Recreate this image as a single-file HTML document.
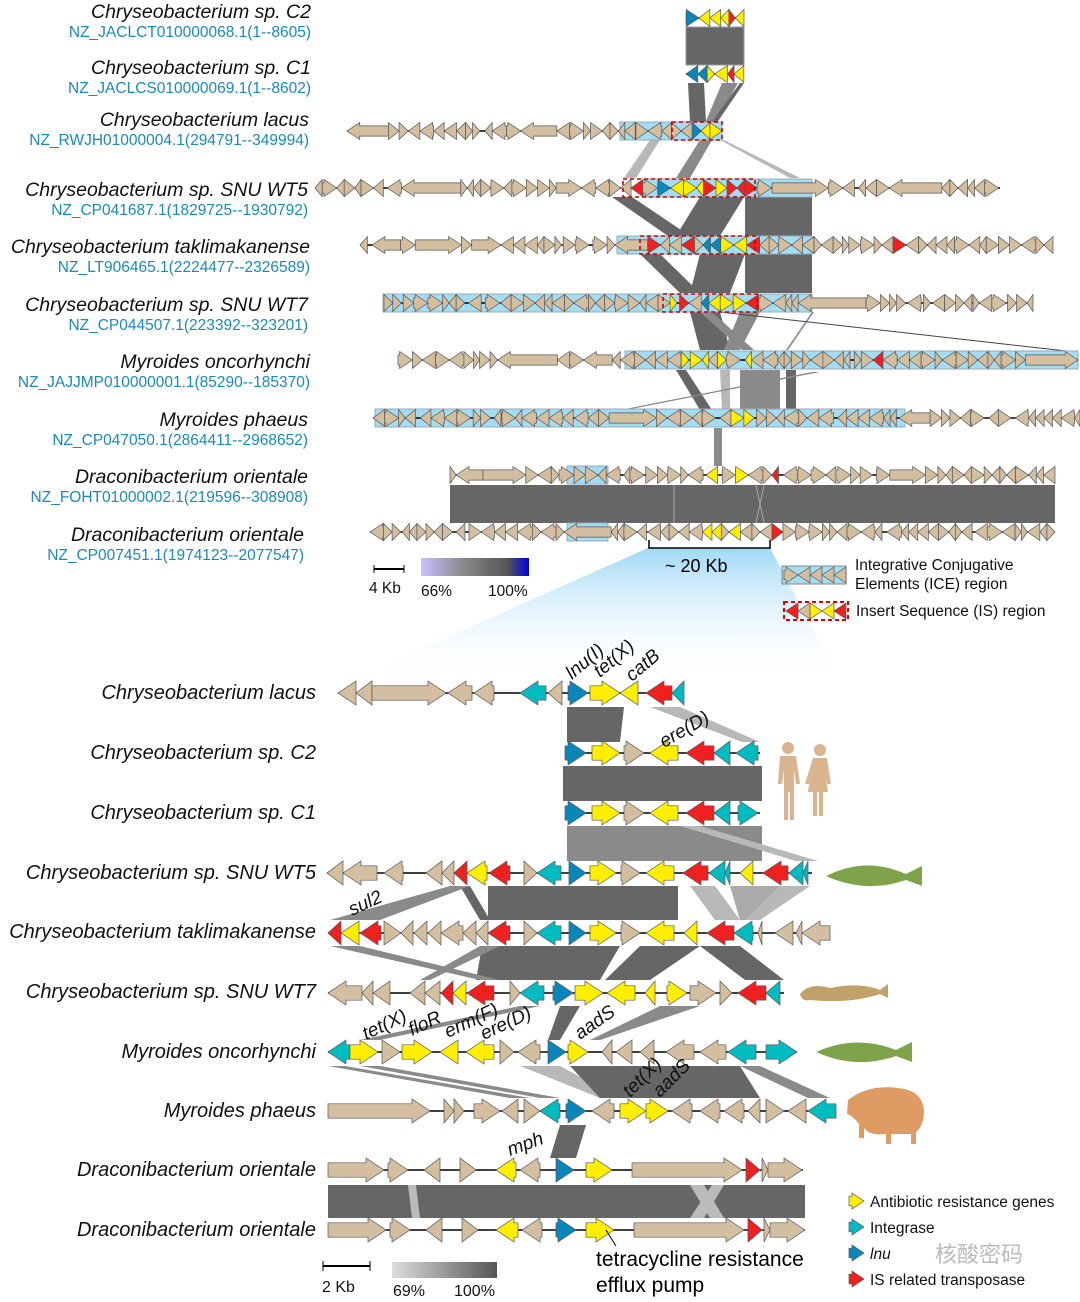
<!DOCTYPE html>
<html><head><meta charset="utf-8"><style>
body{margin:0;background:#fff;}
svg{display:block;font-family:"Liberation Sans","Noto Sans CJK SC",sans-serif;}
.sp{font-style:italic;font-size:19.5px;fill:#111;text-anchor:end}
.acc{font-size:15.5px;fill:#1a8ab5;text-anchor:end}
.bl{font-style:italic;font-size:20px;fill:#111;text-anchor:end}
.gl{font-style:italic;font-size:19px;fill:#111}
.lg{font-size:15.5px;fill:#111}
</style></head><body>
<svg id="s" width="1080" height="1302" viewBox="0 0 1080 1302" xmlns="http://www.w3.org/2000/svg">
<defs>
<linearGradient id="cone" x1="0" y1="0" x2="0" y2="1"><stop offset="0" stop-color="#9fd8f5"/><stop offset="1" stop-color="#fff" stop-opacity="0"/></linearGradient>
<linearGradient id="g1" x1="0" x2="1"><stop offset="0" stop-color="#c8c0ff"/><stop offset="0.4" stop-color="#888"/><stop offset="0.8" stop-color="#555"/><stop offset="1" stop-color="#0000dd"/></linearGradient>
<linearGradient id="g2" x1="0" x2="1"><stop offset="0" stop-color="#ddd"/><stop offset="1" stop-color="#555"/></linearGradient>
</defs>
<polygon points="648,548 770,548 840,680 350,680" fill="url(#cone)"/>
<g id="rib"></g>
<g id="trk"></g>
<text class="sp" x="311" y="18">Chryseobacterium sp. C2</text>
<text class="acc" x="311" y="37">NZ_JACLCT010000068.1(1--8605)</text>
<text class="sp" x="311" y="74">Chryseobacterium sp. C1</text>
<text class="acc" x="311" y="93">NZ_JACLCS010000069.1(1--8602)</text>
<text class="sp" x="309" y="126">Chryseobacterium lacus</text>
<text class="acc" x="309" y="145">NZ_RWJH01000004.1(294791--349994)</text>
<text class="sp" x="308" y="196">Chryseobacterium sp. SNU WT5</text>
<text class="acc" x="308" y="215">NZ_CP041687.1(1829725--1930792)</text>
<text class="sp" x="310" y="253">Chryseobacterium taklimakanense</text>
<text class="acc" x="310" y="272">NZ_LT906465.1(2224477--2326589)</text>
<text class="sp" x="308" y="311">Chryseobacterium sp. SNU WT7</text>
<text class="acc" x="308" y="330">NZ_CP044507.1(223392--323201)</text>
<text class="sp" x="310" y="368">Myroides oncorhynchi</text>
<text class="acc" x="310" y="387">NZ_JAJJMP010000001.1(85290--185370)</text>
<text class="sp" x="308" y="426">Myroides phaeus</text>
<text class="acc" x="308" y="445">NZ_CP047050.1(2864411--2968652)</text>
<text class="sp" x="308" y="483">Draconibacterium orientale</text>
<text class="acc" x="308" y="502">NZ_FOHT01000002.1(219596--308908)</text>
<text class="sp" x="304" y="541">Draconibacterium orientale</text>
<text class="acc" x="304" y="560">NZ_CP007451.1(1974123--2077547)</text>
<line x1="374" y1="569" x2="404" y2="569" stroke="#000" stroke-width="2"/><line x1="374" y1="565" x2="374" y2="573" stroke="#000"/><line x1="404" y1="565" x2="404" y2="573" stroke="#000"/>
<text class="lg" x="369" y="593">4 Kb</text>
<rect x="421" y="558" width="108" height="18" fill="url(#g1)"/>
<text class="lg" x="421" y="596">66%</text><text class="lg" x="488" y="596">100%</text>
<path d="M649,540 V548 H770 V540" fill="none" stroke="#000" stroke-width="1.5"/>
<text x="665" y="572" style="font-size:18px">~ 20 Kb</text>
<rect x="782" y="566" width="64" height="18" fill="#a4dcf2" stroke="#888"/>
<g id="lg2"></g>
<rect x="784" y="602" width="64" height="18" fill="none" stroke="#d00" stroke-dasharray="4,3" stroke-width="2"/>
<text class="lg" x="855" y="570">Integrative Conjugative</text>
<text class="lg" x="855" y="589">Elements (ICE) region</text>
<text class="lg" x="856" y="616">Insert Sequence (IS) region</text>
<text class="bl" x="316" y="699">Chryseobacterium lacus</text>
<text class="bl" x="316" y="759">Chryseobacterium sp. C2</text>
<text class="bl" x="316" y="819">Chryseobacterium sp. C1</text>
<text class="bl" x="316" y="879">Chryseobacterium sp. SNU WT5</text>
<text class="bl" x="316" y="938">Chryseobacterium taklimakanense</text>
<text class="bl" x="316" y="998">Chryseobacterium sp. SNU WT7</text>
<text class="bl" x="316" y="1058">Myroides oncorhynchi</text>
<text class="bl" x="316" y="1117">Myroides phaeus</text>
<text class="bl" x="316" y="1176">Draconibacterium orientale</text>
<text class="bl" x="316" y="1236">Draconibacterium orientale</text>
<text class="gl" transform="translate(572,680) rotate(-40)">lnu(I)</text>
<text class="gl" transform="translate(600,678) rotate(-40)">tet(X)</text>
<text class="gl" transform="translate(632,682) rotate(-40)">catB</text>
<text class="gl" transform="translate(664,748) rotate(-30)">ere(D)</text>
<text class="gl" transform="translate(352,916) rotate(-25)">sul2</text>
<text class="gl" transform="translate(366,1040) rotate(-25)">tet(X)</text>
<text class="gl" transform="translate(412,1036) rotate(-25)">floR</text>
<text class="gl" transform="translate(448,1038) rotate(-25)">erm(F)</text>
<text class="gl" transform="translate(484,1040) rotate(-25)">ere(D)</text>
<text class="gl" transform="translate(580,1040) rotate(-35)">aadS</text>
<text class="gl" transform="translate(630,1098) rotate(-45)">tet(X)</text>
<text class="gl" transform="translate(660,1098) rotate(-45)">aadS</text>
<text class="gl" transform="translate(510,1156) rotate(-20)">mph</text>
<line x1="606" y1="1230" x2="616" y2="1246" stroke="#000"/>
<text x="596" y="1266" style="font-size:21px">tetracycline resistance</text>
<text x="596" y="1292" style="font-size:21px">efflux pump</text>
<line x1="323" y1="1266" x2="370" y2="1266" stroke="#000" stroke-width="2"/><line x1="323" y1="1261" x2="323" y2="1271" stroke="#000"/><line x1="370" y1="1261" x2="370" y2="1271" stroke="#000"/>
<text class="lg" x="322" y="1292" style="font-size:16px">2 Kb</text>
<rect x="392" y="1262" width="105" height="16" fill="url(#g2)"/>
<text class="lg" x="393" y="1296" style="font-size:16px">69%</text><text class="lg" x="454" y="1296" style="font-size:16px">100%</text>
<g id="leg"></g>
<text class="lg" x="870" y="1207">Antibiotic resistance genes</text>
<text class="lg" x="870" y="1233">Integrase</text>
<text class="lg" x="870" y="1259" style="font-style:italic">lnu</text>
<text class="lg" x="870" y="1285">IS related transposase</text>
<text x="935" y="1262" style="font-size:22px;fill:#bbb">核酸密码</text>
<g fill="#d9b48f">
<circle cx="788" cy="748" r="6"/><path d="M780,756 h16 l4,28 h-4 l-2,-14 v50 h-4 v-28 h-2 v28 h-4 v-50 l-2,14 h-4z"/>
<circle cx="820" cy="750" r="6"/><path d="M813,758 h14 l4,26 h-4 l-2,-12 l3,20 h-5 v24 h-4 v-24 h-2 v24 h-4 v-24 h-5 l3,-20 l-2,12 h-4z"/>
</g>
<path d="M826,876 q40,-20 80,-2 l16,-8 v20 l-16,-6 q-40,14 -80,-4z" fill="#7fa34a"/>
<path d="M800,994 q10,-12 30,-6 q30,-6 50,2 l8,-6 v14 l-8,-4 q-30,10 -70,6 q-8,2 -10,-6z" fill="#c2a06a"/>
<path d="M816,1052 q40,-18 80,-2 l16,-8 v20 l-16,-6 q-40,14 -80,-4z" fill="#7fa34a"/>
<path d="M848,1100 q20,-16 50,-12 q24,2 26,22 q0,16 -8,22 v12 h-5 v-10 h-20 v10 h-5 v-10 q-16,2 -22,-6 v10 h-5 v-14 q-6,-8 -12,-10z" fill="#de9c64"/>
</svg>
<script>
var S=document.getElementById('s'),R=document.getElementById('rib'),T=document.getElementById('trk'),L=document.getElementById('leg');
var C={t:'#d3bea0',y:'#ffee00',r:'#ee2020',c:'#00bcc0',b:'#0a86b8'};
function el(p,tag,a){var e=document.createElementNS('http://www.w3.org/2000/svg',tag);for(var k in a)e.setAttribute(k,a[k]);p.appendChild(e);return e;}
function arrow(p,x1,x2,cy,h,d,col){var w=x2-x1,hl=Math.min(w,h*0.75),sh=h*0.3,pts;
 if(d>0)pts=[[x1,cy-sh],[x2-hl,cy-sh],[x2-hl,cy-h/2],[x2,cy],[x2-hl,cy+h/2],[x2-hl,cy+sh],[x1,cy+sh]];
 else pts=[[x2,cy-sh],[x1+hl,cy-sh],[x1+hl,cy-h/2],[x1,cy],[x1+hl,cy+h/2],[x1+hl,cy+sh],[x2,cy+sh]];
 el(p,'polygon',{points:pts.map(function(q){return q.join(',')}).join(' '),fill:C[col],stroke:'#555','stroke-width':0.7});}
function poly(p,pts,f){el(p,'polygon',{points:pts.join(' '),fill:f});}
var seed=7;function rnd(){seed=(seed*16807)%2147483647;return seed/2147483647;}
function topTrack(y,x1,x2,ice,is,special){
 if(ice)ice.forEach(function(r){el(T,'rect',{x:r[0],y:y-9,width:r[1]-r[0],height:18,fill:'#a4dcf2',stroke:'#9ab'});});
 el(T,'line',{x1:x1,y1:y,x2:x2,y2:y,stroke:'#000','stroke-width':1.5});
 var x=x1;
 while(x<x2-4){var w=rnd()<0.06?25+rnd()*45:6+rnd()*9;if(x+w>x2)w=x2-x;var gap=rnd()<0.15?rnd()*5:0;
  var col='t';for(var i=0;i<(special||[]).length;i++){var s=special[i];if(x>=s[0]&&x<s[1]){col=s[2];w=Math.min(w,13);}}
  arrow(T,x,x+w,y,17,rnd()<0.5?1:-1,col);x+=w+gap;}
 if(is)is.forEach(function(r){el(T,'rect',{x:r[0],y:y-9,width:r[1]-r[0],height:18,fill:'none',stroke:'#c00','stroke-dasharray':'4,3','stroke-width':1.6});});
}
var dk='#666',md='#8a8a8a',lt='#b8b8b8';
el(R,'rect',{x:686,y:27,width:58,height:38,fill:dk,stroke:'#999'});
poly(R,[688,83,704,83,706,122,690,122],dk);
poly(R,[722,83,738,83,706,140,698,140],md);
poly(R,[740,83,744,83,712,130,706,130],dk);
poly(R,[650,140,660,140,636,178,624,178],lt);
poly(R,[700,140,712,140,690,178,676,178],md);
poly(R,[720,140,724,140,800,178,790,178],lt);
poly(R,[745,197,812,197,812,236,745,236],dk);
poly(R,[612,197,632,197,690,236,668,236],dk);
poly(R,[700,197,744,197,720,236,676,236],dk);
poly(R,[745,254,812,254,812,293,745,293],dk);
poly(R,[640,254,660,254,700,293,680,293],dk);
poly(R,[700,254,745,254,730,293,690,293],dk);
poly(R,[690,312,720,312,730,350,700,350],dk);
poly(R,[700,312,712,312,754,350,742,350],md);
poly(R,[740,312,760,312,740,350,724,350],md);
poly(R,[812,312,814,312,788,350,786,350],'#88a');
el(R,'line',{x1:720,y1:312,x2:1075,y2:352,stroke:'#444','stroke-width':1});
poly(R,[740,370,780,370,780,410,740,410],md);
poly(R,[786,370,796,370,796,410,786,410],dk);
poly(R,[676,370,686,370,712,410,700,410],dk);
poly(R,[720,370,730,370,730,410,722,410],lt);
poly(R,[620,410,626,410,820,372,812,372],md);
poly(R,[714,428,722,428,722,466,714,466],md);
poly(R,[450,485,1055,485,1055,523,450,523],dk);
el(R,'line',{x1:674,y1:485,x2:674,y2:523,stroke:'#aaa'});
el(R,'line',{x1:756,y1:485,x2:764,y2:523,stroke:'#aaa'});el(R,'line',{x1:764,y1:485,x2:756,y2:523,stroke:'#aaa'});
topTrack(18,686,744,null,null,[[686,698,'b'],[698,712,'y'],[712,724,'y'],[724,734,'r'],[734,744,'y']]);
topTrack(74,686,744,null,null,[[686,698,'b'],[698,712,'y'],[712,724,'y'],[724,734,'r'],[734,744,'y']]);
topTrack(131,347,722,[[620,722]],[[672,722]],[[690,700,'b'],[700,712,'y'],[712,722,'r']]);
topTrack(188,315,1000,[[643,812]],[[623,755]],[[623,640,'r'],[655,668,'b'],[668,700,'y'],[700,712,'r'],[712,725,'y'],[725,740,'r'],[740,755,'r']]);
topTrack(245,360,1053,[[617,812]],[[640,755]],[[640,660,'r'],[680,690,'r'],[703,712,'b'],[712,725,'y'],[730,745,'y'],[745,755,'r'],[890,898,'r']]);
topTrack(303,384,1033,[[383,812]],[[663,757]],[[663,675,'y'],[675,686,'r'],[697,706,'b'],[706,730,'y'],[730,742,'y'],[742,757,'r']]);
topTrack(360,398,1078,[[625,1078]],null,[[675,690,'y'],[690,705,'y'],[710,720,'y'],[730,740,'b'],[740,750,'y'],[868,880,'r'],[1062,1078,'r']]);
topTrack(418,373,1080,[[375,905]],null,[[712,720,'b'],[728,745,'y']]);
topTrack(475,450,1055,[[567,608]],null,[[700,712,'y'],[712,720,'b'],[724,736,'y'],[770,776,'r']]);
topTrack(532,370,1055,[[567,608]],null,[[700,712,'y'],[712,720,'b'],[724,736,'y'],[770,776,'r']]);
poly(R,[567,707,624,707,620,742,567,742],dk);
poly(R,[650,707,680,707,760,742,742,742],lt);
poly(R,[563,766,762,766,762,801,563,801],dk);
poly(R,[567,826,762,826,762,861,567,861],md);
poly(R,[680,826,700,826,818,861,796,861],lt);
poly(R,[488,886,678,886,678,920,488,920],dk);
poly(R,[460,886,470,886,490,920,480,920],dk);
poly(R,[330,920,380,920,470,886,450,886],md);
poly(R,[690,886,715,886,740,920,715,920],lt);
poly(R,[730,886,790,886,760,920,740,920],'#aaa');
poly(R,[780,886,810,886,760,920,745,920],lt);
poly(R,[482,946,620,946,600,980,476,980],dk);
poly(R,[640,946,700,946,650,980,605,980],dk);
poly(R,[700,946,740,946,784,980,745,980],dk);
poly(R,[330,946,360,946,500,980,480,980],md);
poly(R,[420,980,480,946,500,946,430,980],md);
poly(R,[560,1006,580,1006,560,1040,548,1040],dk);
poly(R,[360,1040,520,1006,540,1006,380,1040],md);
poly(R,[660,1006,700,1006,600,1040,590,1040],md);
poly(R,[328,1066,345,1066,530,1098,510,1098],md);
poly(R,[360,1066,380,1066,560,1098,540,1098],md);
poly(R,[520,1066,560,1066,620,1098,600,1098],lt);
poly(R,[570,1066,740,1066,760,1098,600,1098],dk);
poly(R,[740,1066,760,1066,830,1098,808,1098],md);
poly(R,[560,1125,586,1125,576,1158,550,1158],dk);
poly(R,[328,1185,805,1185,805,1218,328,1218],dk);
poly(R,[408,1185,416,1185,420,1218,412,1218],'#bbb');
poly(R,[690,1185,704,1185,724,1218,710,1218],'#bbb');poly(R,[712,1185,724,1185,704,1218,690,1218],'#bbb');
var B=[
[693,338,684,[[338,356,-1,'t'],[356,372,-1,'t'],[372,446,1,'t'],[448,472,-1,'t'],[474,494,-1,'t'],[520,546,-1,'c'],[548,562,-1,'t'],[568,588,1,'b'],[590,620,1,'y'],[620,638,-1,'y'],[646,672,-1,'r'],[672,684,-1,'c']]],
[753,565,760,[[565,586,1,'b'],[592,620,1,'y'],[624,644,1,'t'],[650,678,-1,'y'],[686,714,-1,'r'],[714,730,-1,'c'],[736,758,-1,'c']]],
[813,565,760,[[565,586,1,'b'],[592,620,1,'y'],[624,644,1,'t'],[650,678,-1,'y'],[686,714,-1,'r'],[714,730,-1,'c'],[738,758,1,'c']]],
[873,327,812,[[327,343,-1,'t'],[343,377,-1,'t'],[384,403,-1,'t'],[426,442,-1,'t'],[442,454,-1,'t'],[454,467,-1,'r'],[467,487,-1,'y'],[489,510,-1,'r'],[524,537,1,'t'],[537,561,-1,'c'],[569,586,1,'b'],[590,616,1,'y'],[621,640,1,'t'],[646,674,-1,'y'],[683,708,-1,'r'],[709,725,-1,'c'],[725,730,-1,'c'],[740,753,-1,'y'],[763,788,-1,'r'],[789,803,-1,'c'],[803,808,-1,'c']]],
[933,328,830,[[328,341,-1,'r'],[341,359,-1,'y'],[360,381,-1,'r'],[384,401,1,'t'],[401,413,-1,'t'],[414,427,-1,'t'],[428,441,-1,'t'],[441,463,-1,'t'],[463,476,-1,'t'],[476,488,-1,'t'],[488,510,-1,'r'],[524,537,1,'t'],[537,561,-1,'c'],[569,586,1,'b'],[590,616,1,'y'],[621,640,1,'t'],[646,674,-1,'y'],[684,697,-1,'y'],[707,734,-1,'r'],[734,753,-1,'c'],[758,762,-1,'t'],[775,793,-1,'t'],[796,802,-1,'t'],[802,830,-1,'t']]],
[993,328,784,[[328,362,-1,'t'],[362,373,-1,'t'],[373,390,-1,'t'],[410,425,-1,'t'],[425,440,-1,'t'],[441,453,-1,'r'],[453,466,-1,'y'],[467,494,-1,'r'],[510,520,1,'t'],[520,544,-1,'c'],[553,573,1,'b'],[575,603,1,'y'],[607,635,-1,'y'],[645,655,-1,'y'],[667,687,1,'y'],[690,716,1,'t'],[720,732,1,'t'],[738,766,-1,'r'],[766,780,-1,'c']]],
[1052,328,797,[[328,350,-1,'c'],[350,378,1,'y'],[382,400,1,'t'],[402,432,1,'y'],[440,458,-1,'y'],[466,494,-1,'y'],[500,514,1,'t'],[518,540,-1,'t'],[548,566,1,'b'],[568,588,1,'y'],[602,612,-1,'t'],[616,632,-1,'t'],[640,654,-1,'t'],[666,694,-1,'t'],[700,726,-1,'t'],[728,756,-1,'c'],[766,797,1,'c']]],
[1111,328,836,[[328,430,1,'t'],[444,454,1,'t'],[454,464,1,'t'],[474,500,1,'t'],[502,518,-1,'t'],[524,540,1,'t'],[540,560,-1,'c'],[566,586,1,'b'],[592,614,-1,'t'],[620,646,1,'y'],[646,668,1,'y'],[672,692,-1,'t'],[700,720,-1,'t'],[724,744,-1,'t'],[748,760,-1,'t'],[766,784,1,'t'],[788,806,-1,'t'],[808,836,-1,'c']]],
[1170,328,803,[[328,384,1,'t'],[388,408,1,'t'],[424,440,-1,'t'],[460,476,1,'t'],[496,516,-1,'y'],[520,540,-1,'t'],[556,574,1,'b'],[586,612,1,'y'],[632,742,1,'t'],[746,760,1,'r'],[762,768,1,'t'],[768,802,1,'t']]],
[1230,328,805,[[328,386,1,'t'],[390,410,1,'t'],[426,442,-1,'t'],[462,478,1,'t'],[496,518,-1,'y'],[522,542,-1,'t'],[556,576,1,'b'],[586,614,1,'y'],[634,744,1,'t'],[748,762,1,'r'],[764,770,1,'t'],[770,805,1,'t']]]
];
B.forEach(function(r){el(T,'line',{x1:r[1],y1:r[0],x2:r[2],y2:r[0],stroke:'#000','stroke-width':1.5});
 r[3].forEach(function(g){arrow(T,g[0],g[1],r[0],24,g[2],g[3]);});});
[['y',1201],['c',1227],['b',1253],['r',1279]].forEach(function(a){arrow(L,849,864,a[1],16,1,a[0]);});
var L2=document.getElementById('lg2');
[[784,798,1],[798,810,-1],[810,822,-1],[822,834,-1],[834,846,-1]].forEach(function(g){arrow(L2,g[0],g[1],575,16,g[2],'t');});
[[786,798,-1,'r'],[798,810,-1,'t'],[810,822,1,'y'],[822,834,-1,'y'],[834,846,-1,'r']].forEach(function(g){arrow(L2,g[0],g[1],611,16,g[2],g[3]);});
</script>
</body></html>
